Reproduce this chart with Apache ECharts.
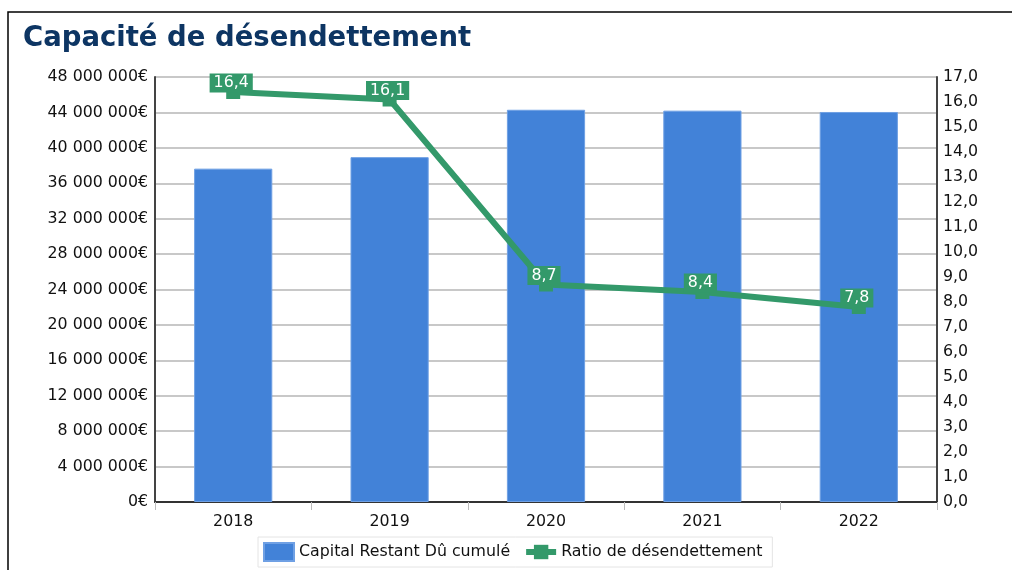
<!DOCTYPE html>
<html><head><meta charset="utf-8">
<script src="https://cdn.jsdelivr.net/npm/echarts@6/dist/echarts.min.js"></script>
<style>html,body{margin:0;padding:0;background:#fff}#c{width:1012px;height:570px}</style>
</head><body><div id="c"></div>
<script>
const title = 'Capacité de désendettement';
const categories = ['2018', '2019', '2020', '2021', '2022'];
const capitalName = 'Capital Restant Dû cumulé';
const ratioName = 'Ratio de désendettement';
const capitalValues = [37650000, 38950000, 44300000, 44200000, 44050000];
const ratioValues = [16.4, 16.1, 8.7, 8.4, 7.8];

const font = 'DejaVu Sans';
const green = '#33996a';
const blue = '#4282d8';
const fs = 15.8;

function fmtEuro(v) {
  return String(Math.round(v)).replace(/\B(?=(\d{3})+(?!\d))/g, ' ') + '€';
}
function fmtRatio(v) { return v.toFixed(1).replace('.', ','); }

const chart = echarts.init(document.getElementById('c'), null, {renderer: 'canvas'});
chart.setOption({
  animation: false,
  textStyle: {fontFamily: font},
  title: {
    text: title, left: 18, top: 20,
    textStyle: {fontFamily: font, fontWeight: 'bold', fontSize: 27.5, color: '#0d3563'}
  },
  graphic: [{
    type: 'rect', shape: {x: 8, y: 12, width: 1100, height: 700},
    style: {fill: 'none', stroke: '#000', lineWidth: 1.5}, silent: true, z: 100
  }],
  grid: {left: 155, right: 75, top: 77, bottom: 68, containLabel: false},
  legend: {
    bottom: 3, left: 258,
    borderColor: '#e4e4e4', borderWidth: 1, padding: [5, 10, 5, 5],
    itemWidth: 30, itemHeight: 18, itemGap: 13,
    textStyle: {fontFamily: font, fontSize: fs, color: '#111'},
    data: [
      {name: capitalName, icon: 'rect'},
      {name: ratioName, lineStyle: {width: 6, color: green}, itemStyle: {color: green}}
    ]
  },
  xAxis: {
    type: 'category', data: categories,
    axisLine: {lineStyle: {color: '#333', width: 2}},
    axisTick: {show: true, length: 8, lineStyle: {color: '#bbb'}},
    axisLabel: {fontFamily: font, fontSize: fs, color: '#111', margin: 12}
  },
  yAxis: [{
    type: 'value', min: 0, max: 48000000, interval: 4000000,
    axisLine: {show: true, lineStyle: {color: '#444', width: 2}},
    axisTick: {show: false},
    axisLabel: {fontFamily: font, fontSize: fs, color: '#111', margin: 7, formatter: fmtEuro},
    splitLine: {lineStyle: {color: '#c8c8c8', width: 2}}
  }, {
    type: 'value', min: 0, max: 17, interval: 1, position: 'right',
    axisLine: {show: true, lineStyle: {color: '#444', width: 2}},
    axisTick: {show: false},
    axisLabel: {fontFamily: font, fontSize: fs, color: '#111', margin: 6, formatter: fmtRatio},
    splitLine: {show: false}
  }],
  series: [{
    name: capitalName, type: 'bar', data: capitalValues, barWidth: '50%',
    itemStyle: {color: blue, borderColor: '#6fa0e4', borderWidth: 1}
  }, {
    name: ratioName, type: 'line', yAxisIndex: 1, data: ratioValues,
    symbol: 'rect', symbolSize: 14,
    lineStyle: {color: green, width: 6},
    itemStyle: {color: green},
    label: {
      show: true, position: 'inside', offset: [-2, -9],
      formatter: p => fmtRatio(p.value),
      backgroundColor: green, color: '#fff', fontFamily: font, fontSize: fs,
      padding: [2, 4, 1, 4]
    },
    z: 5
  }]
});
</script></body></html>
